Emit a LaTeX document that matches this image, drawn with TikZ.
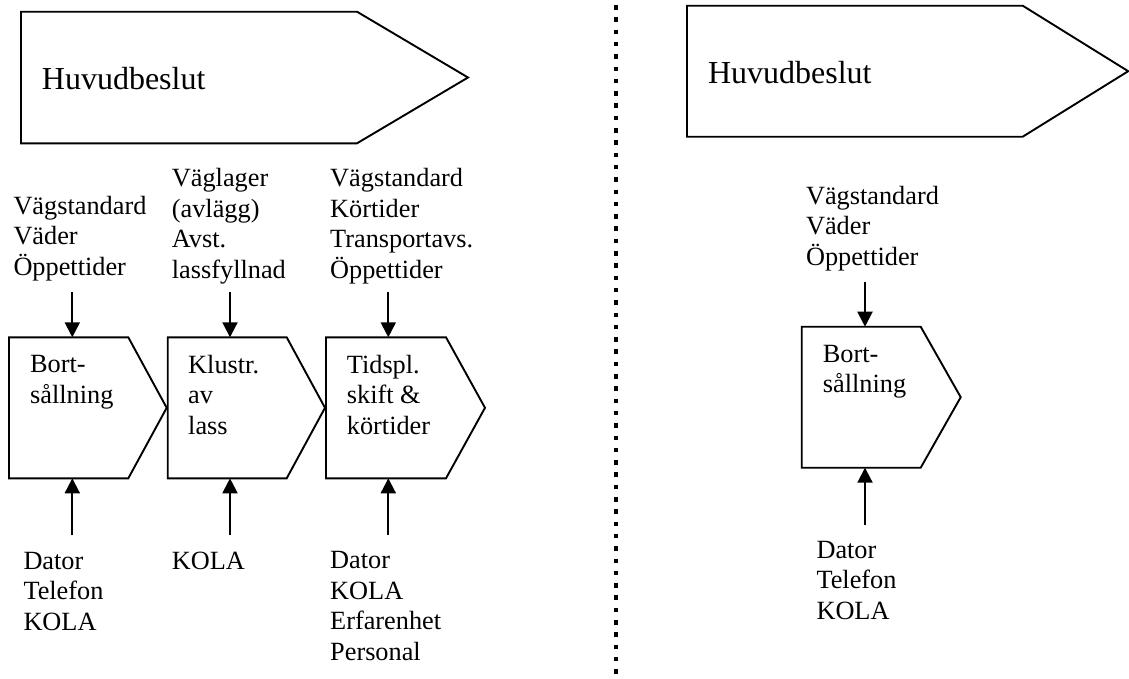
\documentclass[tikz,border=0pt]{standalone}
\usepackage{fontspec}
\setmainfont{Liberation Serif}
\usetikzlibrary{arrows.meta}
\begin{document}
\begin{tikzpicture}[x=1pt,y=-1pt,
  lbl/.style={font=\fontsize{26.3}{30.7}\selectfont, align=left, inner sep=0pt, anchor=base west},
  bigl/.style={font=\fontsize{32}{36}\selectfont, inner sep=0pt, anchor=base west},
  shp/.style={inner sep=0pt, outer sep=0pt},
  outline/.style={line width=1.9pt, line join=miter},
  arr/.style={line width=2pt, -{Triangle[width=15pt,length=15pt]}}]
\useasboundingbox (0,0) rectangle (1129,678);

% main decision boxes
\node[shp, minimum width=336pt, minimum height=131.6pt] (hb1) at (189,77.5) {};
\draw[outline] (hb1.north west) -- (hb1.north east) -- ([xshift=111pt]hb1.east) -- (hb1.south east) -- (hb1.south west) -- cycle;
\node[bigl] (hb1t) at (41.7,89.3) {Huvudbeslut};

\node[shp, minimum width=335.7pt, minimum height=131pt] (hb2) at (854.85,71.2) {};
\draw[outline] (hb2.north west) -- (hb2.north east) -- ([xshift=105.5pt]hb2.east) -- (hb2.south east) -- (hb2.south west) -- cycle;
\node[bigl] (hb2t) at (707.8,83.3) {Huvudbeslut};

% process boxes
\node[shp, minimum width=119.3pt, minimum height=141pt] (b1) at (68.65,407.8) {};
\node[shp, minimum width=119pt, minimum height=141pt] (b2) at (227.2,407.8) {};
\node[shp, minimum width=120pt, minimum height=141pt] (b3) at (386,407.8) {};
\node[shp, minimum width=119pt, minimum height=141pt] (b4) at (861.2,397.2) {};
\foreach \b/\e in {b1/38.4,b2/38.3,b3/39,b4/40}{
  \draw[outline] (\b.north west) -- (\b.north east) -- ([xshift=\e pt]\b.east) -- (\b.south east) -- (\b.south west) -- cycle;
}
% (anchor = baseline of the last line)
\node[lbl] (t1) at (30,403) {Bort-\\sållning};
\node[lbl] (t2) at (188,434.5) {Klustr.\\av\\lass};
\node[lbl] (t3) at (346.7,434.5) {Tidspl.\\skift \&\\körtider};
\node[lbl] (t4) at (822.7,392.7) {Bort-\\sållning};

% input labels
\node[lbl] (u1) at (13.3,275.5) {Vägstandard\\Väder\\Öppettider};
\node[lbl] (u2) at (171.7,278.5) {Väglager\\(avlägg)\\Avst.\\lassfyllnad};
\node[lbl] (u3) at (330,278.5) {Vägstandard\\Körtider\\Transportavs.\\Öppettider};
\node[lbl] (u4) at (805.8,265.5) {Vägstandard\\Väder\\Öppettider};

% resource labels
\node[lbl] (d1) at (23.3,630.5) {Dator\\Telefon\\KOLA};
\node[lbl] (d2) at (171.7,569.3) {KOLA};
\node[lbl] (d3) at (330,660.5) {Dator\\KOLA\\Erfarenhet\\Personal};
\node[lbl] (d4) at (816.3,619.5) {Dator\\Telefon\\KOLA};

% arrows
\coordinate (a1) at (72.3,291.7);
\coordinate (a2) at (230,291.7);
\coordinate (a3) at (388.3,291.7);
\coordinate (a4) at (865,281.7);
\coordinate (c1) at (72.3,535);
\coordinate (c2) at (230,535);
\coordinate (c3) at (388.3,535);
\coordinate (c4) at (865,525);
\foreach \i in {1,2,3,4}{
  \draw[arr] (a\i) -- (a\i |- b\i.north);
  \draw[arr] (c\i) -- (c\i |- b\i.south);
}

% dotted separator
\draw[line width=4.5pt, dash pattern=on 4.5pt off 7.8pt] (616,5) -- (616,674);
\end{tikzpicture}
\end{document}
